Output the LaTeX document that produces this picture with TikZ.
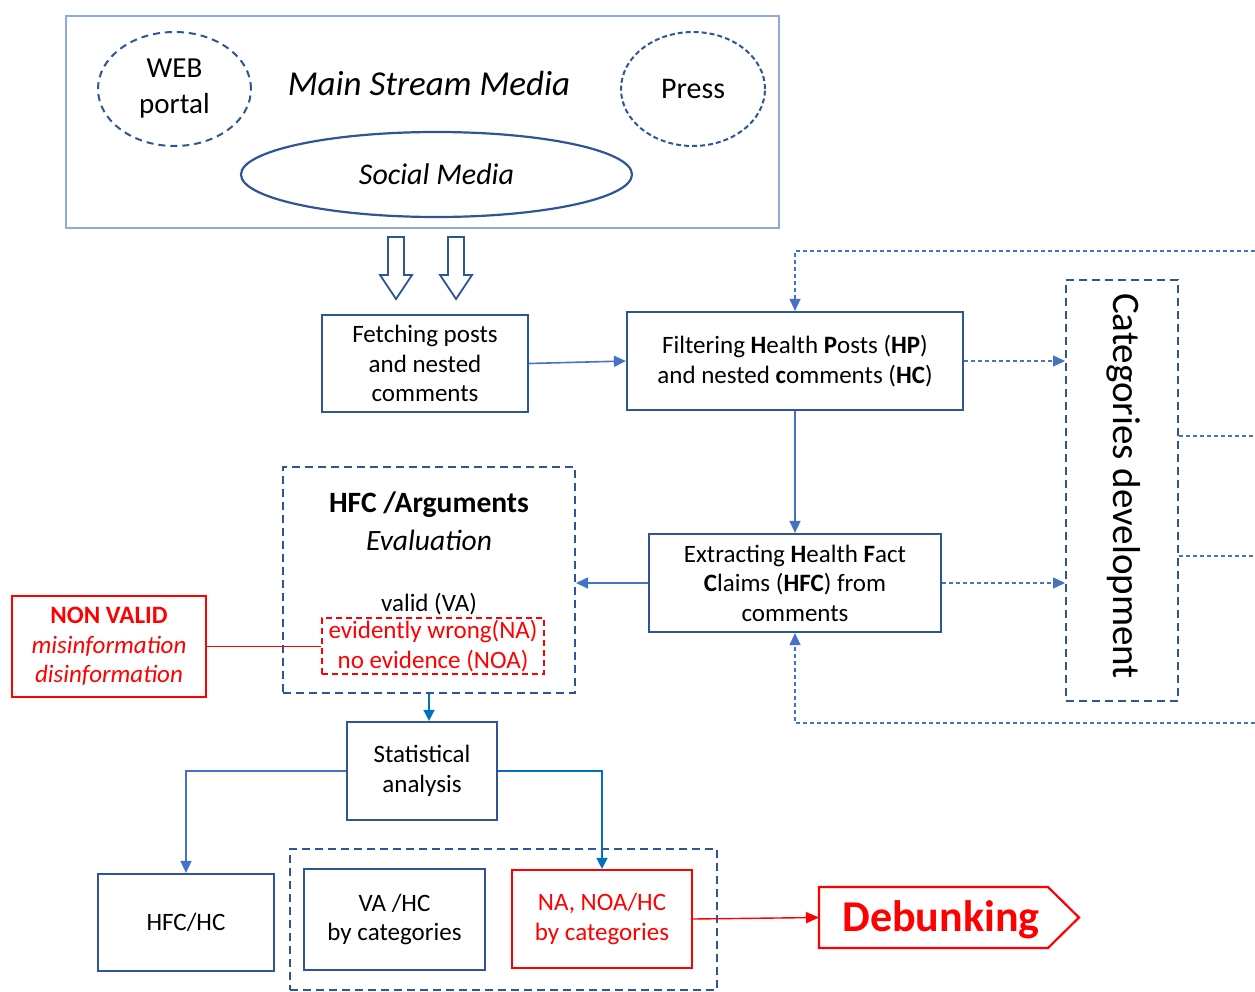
\documentclass[tikz,border=0pt]{standalone}
\usepackage{fontspec}
\setmainfont{Carlito}
\usetikzlibrary{arrows.meta,shapes.geometric}
\definecolor{bbox}{RGB}{47,85,151}
\definecolor{conn}{RGB}{68,114,196}
\definecolor{lconn}{RGB}{91,155,213}
\definecolor{msm}{RGB}{143,170,220}
\definecolor{dconn}{RGB}{0,112,192}
\definecolor{myred}{RGB}{255,0,0}
\tikzset{
  procbox/.style={draw=bbox,line width=2.2pt,align=center,font=\fontsize{25}{29.5}\selectfont,inner sep=0pt},
  redbox/.style={draw=myred,line width=2.2pt,align=center,text=myred,font=\fontsize{25}{29.5}\selectfont,inner sep=0pt},
  dashbox/.style={draw=bbox,line width=2pt,dash pattern=on 8pt off 5pt},
  conline/.style={draw=conn,line width=1.6pt,-{Triangle[length=12pt,width=11pt]}},
  dotline/.style={draw=conn,line width=1.3pt,dash pattern=on 4pt off 3pt},
  dotarrow/.style={dotline,-{Triangle[length=12pt,width=11pt]}},
}
\begin{document}
\begin{tikzpicture}[x=1pt,y=-1pt]
\useasboundingbox (0,0) rectangle (1255,992);
% Main stream media
\node[draw=msm,line width=1.4pt,minimum width=713pt,minimum height=212pt,inner sep=0pt] (msm) at (422.5,122) {};
\node[font=\fontsize{35}{42}\selectfont\itshape] (msmt) at (429,83) {Main Stream Media};
\node[ellipse,draw=bbox,line width=2pt,dash pattern=on 7pt off 5pt,minimum width=153pt,minimum height=114pt,inner sep=0pt,align=center,font=\fontsize{29}{36}\selectfont] (web) at (174.5,89) {\raisebox{-3pt}{WEB}\\\raisebox{-3pt}{portal}};
\node[ellipse,draw=bbox,line width=2pt,dash pattern=on 5pt off 3pt,minimum width=144pt,minimum height=114pt,inner sep=0pt,font=\fontsize{30}{36}\selectfont] (press) at (693,89) {Press};
\node[ellipse,draw=bbox,line width=2.2pt,minimum width=391pt,minimum height=85pt,inner sep=0pt,font=\fontsize{30}{36}\selectfont\itshape] (social) at (436.5,174.5) {Social Media};
% hollow arrows
\foreach \cx in {396,456}{
  \draw[bbox,line width=1.8pt,fill=white,line join=miter] (\cx-8,237) -- (\cx+8,237) -- (\cx+8,275) -- (\cx+16,275) -- (\cx,299) -- (\cx-16,275) -- (\cx-8,275) -- cycle;
}
% process boxes
\node[procbox,minimum width=206pt,minimum height=97pt] (fetch) at (425,363.5) {Fetching posts\\and nested\\comments};
\node[procbox,minimum width=336pt,minimum height=98pt] (filter) at (795,361) {Filtering \textbf{H}ealth \textbf{P}osts (\textbf{HP})\\and nested \textbf{c}omments (\textbf{HC})};
\node[procbox,minimum width=292pt,minimum height=98pt] (extract) at (795,583) {Extracting \textbf{H}ealth \textbf{F}act\\\textbf{C}laims (\textbf{HFC}) from\\comments};
\node[dashbox,minimum width=112pt,minimum height=421pt,inner sep=0pt] (cat) at (1122,490.5) {};
\node[rotate=-90,font=\fontsize{39}{44}\selectfont] (catt) at (1124,486) {Categories development};
% HFC evaluation
\node[dashbox,minimum width=292pt,minimum height=226pt,inner sep=0pt] (hfc) at (429,580) {};
\node[font=\fontsize{29.5}{34}\selectfont\bfseries] (hfct) at (429,505) {HFC /Arguments};
\node[font=\fontsize{29.5}{34}\selectfont\itshape] (evalt) at (429,540) {Evaluation};
\node[font=\fontsize{25}{29.5}\selectfont] (valid) at (429,604) {valid (VA)};
\node[draw=myred,line width=1.8pt,dash pattern=on 6pt off 4pt,minimum width=222pt,minimum height=56pt,inner sep=0pt,align=center,text=myred,font=\fontsize{25}{29.5}\selectfont] (nav) at (433,646) {evidently wrong(NA)\\no evidence (NOA)};
\node[redbox,minimum width=194pt,minimum height=101pt] (nonvalid) at (109,646.5) {\textbf{NON VALID}\\\textit{misinformation}\\\textit{disinformation}};
% statistics
\node[procbox,minimum width=150pt,minimum height=98pt] (stat) at (422,771) {Statistical\\analysis};
\node[procbox,minimum width=176pt,minimum height=97pt] (hfchc) at (186,922.5) {HFC/HC};
\node[dashbox,minimum width=427pt,minimum height=141pt,inner sep=0pt] (grp) at (503.5,919.5) {};
\node[procbox,minimum width=181pt,minimum height=101pt] (vahc) at (394.5,919.5) {VA /HC\\by categories};
\node[redbox,minimum width=180pt,minimum height=98pt] (nahc) at (602,919) {NA, NOA/HC\\by categories};
% debunking pentagon
\draw[myred,line width=2.2pt,line join=miter] (819,887) -- (1048,887) -- (1079,917.5) -- (1048,948) -- (819,948) -- cycle;
\node[text=myred,font=\fontsize{44}{48}\selectfont\bfseries,inner sep=0pt] (deb) at (941,920) {Debunking};
\coordinate (debin) at (819,917.5);
% coordinates for free ends
\coordinate (topr) at (1255,251);
\coordinate (botr) at (1255,723);
\coordinate (r1) at (1255,436);
\coordinate (r2) at (1255,556);
% connectors
\draw[conline] (fetch.east) -- (filter.west);
\draw[conline] (filter.south) -- (extract.north);
\draw[conline] (extract.west) -- (hfc.east |- extract.west);
\draw[dotarrow] (filter.east) -- (cat.west |- filter.east);
\draw[dotarrow] (extract.east) -- (cat.west |- extract.east);
\draw[dotarrow] (topr) -| (filter.north);
\draw[dotarrow] (botr) -| (extract.south);
\draw[dotline] (cat.east |- r1) -- (r1);
\draw[dotline] (cat.east |- r2) -- (r2);
\draw[draw=dconn,line width=1.6pt,-{Triangle[length=11pt,width=11pt]}] (hfc.south) -- (hfc.south |- stat.north);
\draw[conline] (stat.west) -| (hfchc.north);
\draw[draw=dconn,line width=1.6pt,-{Triangle[length=11pt,width=11pt]}] (stat.east) -| (nahc.north);
\draw[draw=myred,line width=1.4pt] (nonvalid.east) -- (nav.west |- nonvalid.east);
\draw[draw=myred,line width=1.4pt,-{Triangle[length=13pt,width=11pt]}] (nahc.east) -- (debin);
\end{tikzpicture}
\end{document}
